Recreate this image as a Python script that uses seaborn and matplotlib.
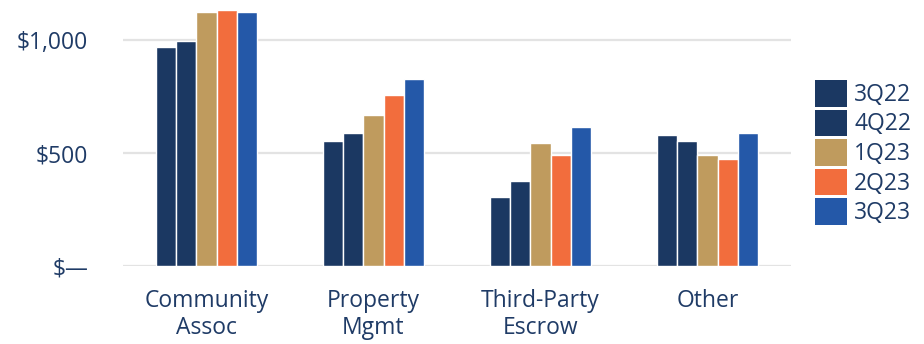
import matplotlib
matplotlib.use("Agg")
import matplotlib.pyplot as plt
import seaborn as sns
import pandas as pd
from matplotlib.patches import Patch
from matplotlib.ticker import FixedLocator

categories = ["Community\nAssoc", "Property\nMgmt", "Third-Party\nEscrow", "Other"]
quarters = ["3Q22", "4Q22", "1Q23", "2Q23", "3Q23"]
q3_22 = [969, 554, 306, 580]
q4_22 = [995, 589, 377, 554]
q1_23 = [1124, 669, 545, 492]
q2_23 = [1133, 757, 492, 474]
q3_23 = [1124, 828, 616, 589]
colors = ["#1B3862", "#1B3862", "#BF9B5E", "#F26D3D", "#2458A8"]
ytick_vals = [0, 500, 1000]
ytick_labels = ["$\u2014", "$500", "$1,000"]

series = [q3_22, q4_22, q1_23, q2_23, q3_23]
rows = []
for q, vals in zip(quarters, series):
    for c, v in zip(categories, vals):
        rows.append({"category": c, "quarter": q, "value": v})
df = pd.DataFrame(rows)

sns.set_theme(style="white")
plt.rcParams["font.family"] = ["Open Sans", "DejaVu Sans"]
text_color = "#1F3B66"

fig = plt.figure(figsize=(9.24, 3.44), dpi=100)
ax = fig.add_axes([123 / 924, 1 - 266.3 / 344, (791 - 123) / 924, 266.3 / 344])

sns.barplot(data=df, x="category", y="value", hue="quarter", hue_order=quarters,
            palette=colors, width=0.6, edgecolor="white", linewidth=1,
            saturation=1, ax=ax, legend=False, zorder=3)

ax.set_ylim(0, 1177)
ax.yaxis.set_major_locator(FixedLocator(ytick_vals))
ax.set_yticklabels(ytick_labels)
ax.grid(axis="y", color="#E3E3E3", linewidth=1.6, zorder=0)
ax.set_axisbelow(True)
for s in ax.spines.values():
    s.set_visible(False)
ax.tick_params(axis="both", length=0, labelsize=16.5, colors=text_color)
ax.tick_params(axis="y", pad=25)
ax.tick_params(axis="x", pad=16)
for t in ax.get_xticklabels():
    t.set_linespacing(1.2)
ax.set_xlabel("")
ax.set_ylabel("")

handles = [Patch(facecolor=c, edgecolor="none") for c in colors]
leg = fig.legend(handles, quarters, loc="upper left",
                 bbox_to_anchor=(799 / 924, 1 - 64 / 344),
                 frameon=False, fontsize=16.5, handlelength=1.4, handleheight=1.4,
                 handletextpad=0.3, labelspacing=0.12, borderpad=0.2)
for t in leg.get_texts():
    t.set_color(text_color)

fig.savefig("out.png", dpi=100)
